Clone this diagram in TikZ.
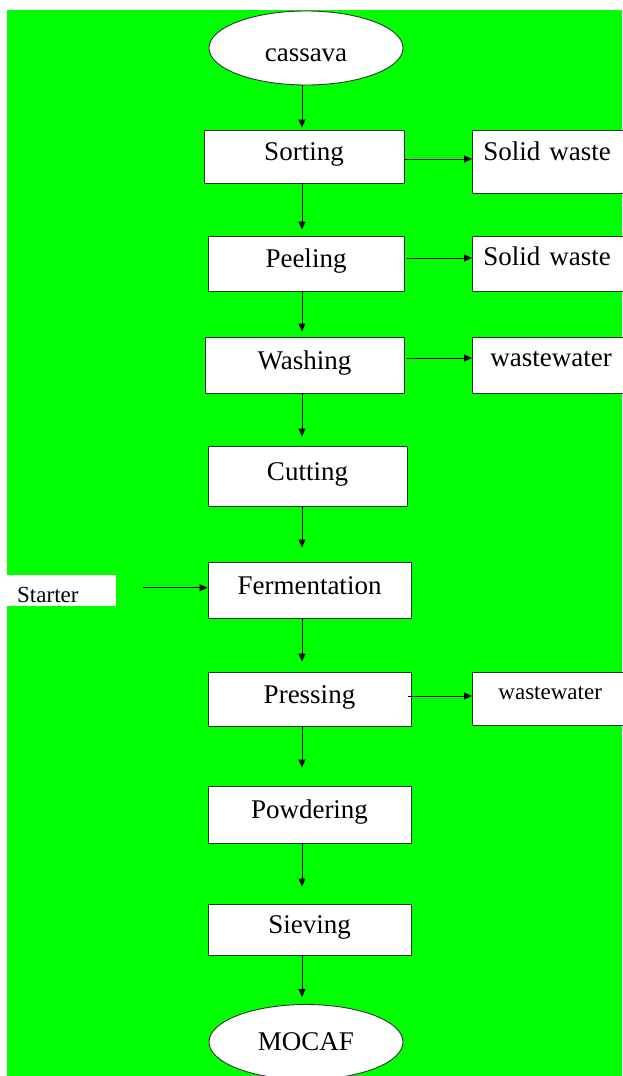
\documentclass[tikz,border=0pt]{standalone}
\usepackage{fontspec}
\setmainfont{Liberation Serif}
\usetikzlibrary{shapes.geometric,positioning,arrows.meta}
\definecolor{bggreen}{RGB}{0,255,0}

\begin{document}
\begin{tikzpicture}[x=1pt,y=1pt,on grid,
  every node/.style={font=\fontsize{27}{30}\selectfont},
  proc/.style={draw=black!80,line width=0.9pt,fill=white,inner sep=0pt,minimum width=203pt,minimum height=54pt,text height=20pt,text depth=12pt},
  term/.style={ellipse,draw=black!80,line width=0.9pt,fill=white,inner sep=0pt,minimum width=194pt,minimum height=74pt},
  outbox/.style={draw=black!80,line width=0.9pt,fill=white,anchor=north west,inner ysep=0pt,align=left},
  flow/.style={-{Triangle[length=8pt,width=7pt]},line width=0.9pt}]

  \useasboundingbox (0,0) rectangle (622,-1076);
  \fill[bggreen] (7,-10) rectangle (622,-1076);

  \node[term,text height=30pt,text depth=4pt] (cassava) at (306,-48) {cassava};

  \node[proc,minimum width=200pt,minimum height=53pt] (sorting) [below=108.5pt of cassava,xshift=-2pt] {Sorting};
  \node[proc,minimum width=196pt,minimum height=55pt] (peeling) [below=107pt of sorting,xshift=2pt] {Peeling};
  \node[proc,minimum width=199pt,minimum height=56pt] (washing) [below=101.5pt of peeling,xshift=-1.5pt] {Washing};
  \node[proc,minimum width=199pt,minimum height=60pt] (cutting) [below=111pt of washing,xshift=3pt] {Cutting};
  \node[proc,minimum height=56pt] (fermentation) [below=114pt of cutting,xshift=2pt] {Fermentation};
  \node[proc] (pressing) [below=109pt of fermentation] {Pressing};
  \node[proc,minimum height=57pt] (powdering) [below=115.5pt of pressing] {Powdering};
  \node[proc,minimum height=51pt] (sieving) [below=115pt of powdering] {Sieving};
  \node[term,minimum height=75pt] (mocaf) [below=112.5pt of sieving,xshift=-3.5pt] {MOCAF};

  % side outputs
  \node[outbox,text width=134pt,inner xsep=11pt,text height=30pt,text depth=33pt] (waste1) at (472,-130) {Solid waste};
  \node[outbox,text width=134pt,inner xsep=11pt,text height=29pt,text depth=26pt] (waste2) at (472,-236) {Solid waste};
  \node[outbox,text width=124pt,inner xsep=18pt,text height=29pt,text depth=27pt] (water1) at (472,-337) {wastewater};
  \node[outbox,text width=110pt,inner xsep=26pt,text height=27pt,text depth=26pt,font=\fontsize{23}{26}\selectfont] (water2) at (472,-672) {wastewater};

  \node[fill=white,anchor=north west,inner ysep=0pt,inner xsep=10pt,text width=89pt,text height=27pt,text depth=4pt,font=\fontsize{23}{26}\selectfont] (starter) at (7,-575) {Starter};

  \coordinate (spine) at (302,0);

  \path[flow]
  (cassava.south -| spine) edge [shorten >=2pt] (sorting.north -| spine)
  (sorting.south -| spine) edge [shorten >=6pt] (peeling.north -| spine)
  (peeling.south -| spine) edge [shorten >=5pt] (washing.north -| spine)
  (washing.south -| spine) edge [shorten >=9pt] (cutting.north -| spine)
  (cutting.south -| spine) edge [shorten >=14pt] (fermentation.north -| spine)
  (fermentation.south -| spine) edge [shorten >=10pt] (pressing.north -| spine)
  (pressing.south -| spine) edge [shorten >=18pt] (powdering.north -| spine)
  (powdering.south -| spine) edge [shorten >=17pt] (sieving.north -| spine)
  (sieving.south -| spine) edge [shorten >=7pt] (mocaf.north -| spine)
  ([yshift=-2.5pt]sorting.east) edge ([yshift=-2.5pt]sorting.east -| waste1.west)
  ([xshift=3pt,yshift=5.5pt]peeling.east) edge ([yshift=5.5pt]peeling.east -| waste2.west)
  ([xshift=3pt,yshift=7pt]washing.east) edge ([yshift=7pt]washing.east -| water1.west)
  ([xshift=-3pt,yshift=3pt]pressing.east) edge ([yshift=3pt]pressing.east -| water2.west)
  ([xshift=27pt,yshift=3pt]starter.east) edge ([yshift=3pt]starter.east -| fermentation.west)
  ;
\end{tikzpicture}
\end{document}
